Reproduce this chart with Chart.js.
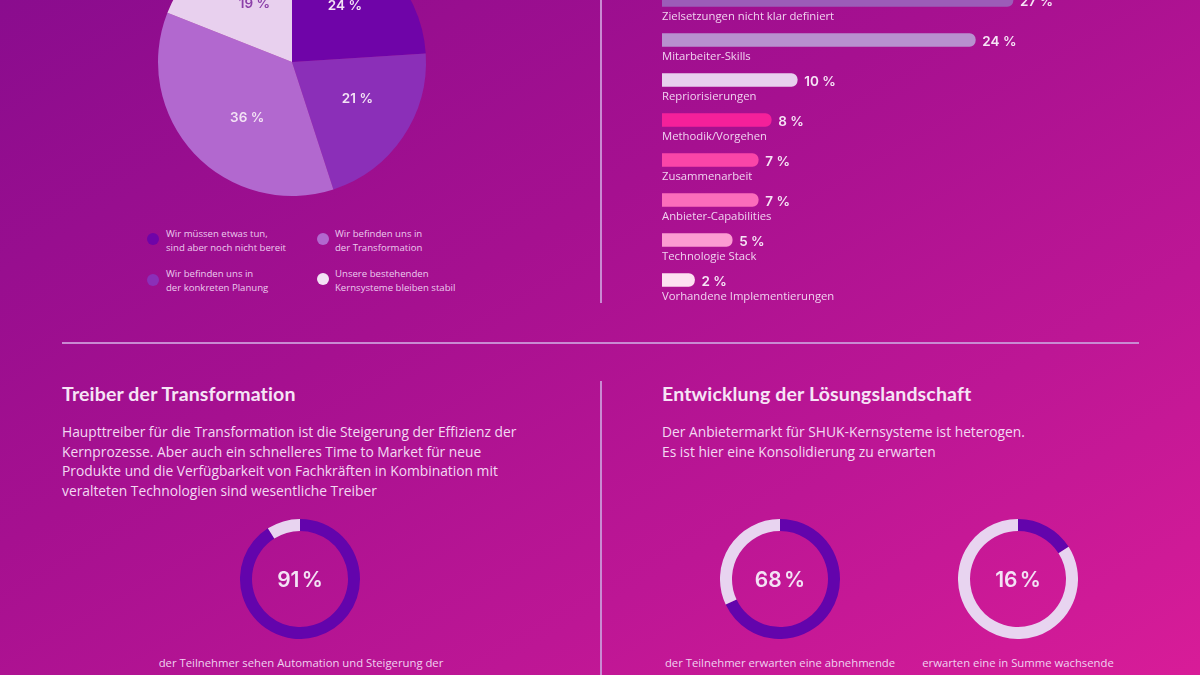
<!DOCTYPE html>
<html lang="de">
<head>
<meta charset="utf-8">
<title>Treiber der Transformation</title>
<script src="https://cdn.jsdelivr.net/npm/chart.js@4/dist/chart.umd.min.js"></script>
<style>
    html, body { margin: 0; padding: 0; }
    body {
        width: 1200px; height: 675px; overflow: hidden; position: relative;
        background: linear-gradient(150deg, #8a0c8e 0%, #a61090 40%, #bd1695 70%, #d81c98 100%);
        font-family: "Open Sans", sans-serif; color: #f3d9f3;
    }
    canvas { position: absolute; }
    .txt { position: absolute; white-space: nowrap; }
    h2 { position: absolute; margin: 0; font: 700 19.5px/22px Lato, sans-serif; letter-spacing: .15px; color: #f6e4f6; white-space: nowrap; }
    .intro { font-size: 13.8px; line-height: 19.5px; }
    .legend { font-size: 9.6px; line-height: 13.5px; color: #eccbee; }
    .dot { position: absolute; width: 12px; height: 12px; border-radius: 50%; }
    .line { position: absolute; background: #c98ad2; }
    .center { position: absolute; width: 120px; text-align: center; font: 600 21px/26px Inter, sans-serif; word-spacing: -3px; color: #f3e2f5; }
    .sub { position: absolute; text-align: center; font-size: 11.3px; line-height: 16px; color: #f0d2f0; white-space: nowrap; transform: translateX(-50%); }
</style>
</head>
<body>
<canvas id="pieChart" style="left:150px;top:-80px"></canvas>
<canvas id="barChart" style="left:662px;top:-20px"></canvas>
<canvas id="donutA" style="left:240px;top:519px"></canvas>
<canvas id="donutB" style="left:720px;top:519px"></canvas>
<canvas id="donutC" style="left:958px;top:519px"></canvas>

<div class="line" style="left:600px;top:0;width:2px;height:303px"></div>
<div class="line" style="left:62px;top:342px;width:1077px;height:2px"></div>
<div class="line" style="left:600px;top:381px;width:2px;height:294px"></div>

<div class="dot" style="left:147px;top:233px;background:#6f04a8"></div>
<div class="txt legend" style="left:166px;top:227px">Wir müssen etwas tun,<br>sind aber noch nicht bereit</div>
<div class="dot" style="left:147px;top:274px;background:#8b2fb8"></div>
<div class="txt legend" style="left:166px;top:267px">Wir befinden uns in<br>der konkreten Planung</div>
<div class="dot" style="left:317px;top:233px;background:#b268cf"></div>
<div class="txt legend" style="left:335px;top:227px">Wir befinden uns in<br>der Transformation</div>
<div class="dot" style="left:317px;top:273px;background:#f3e2f5"></div>
<div class="txt legend" style="left:335px;top:267px">Unsere bestehenden<br>Kernsysteme bleiben stabil</div>

<h2 style="left:62px;top:383px">Treiber der Transformation</h2>
<div class="txt intro" style="left:62px;top:422px">Haupttreiber für die Transformation ist die Steigerung der Effizienz der<br>Kernprozesse. Aber auch ein schnelleres Time to Market für neue<br>Produkte und die Verfügbarkeit von Fachkräften in Kombination mit<br>veralteten Technologien sind wesentliche Treiber</div>
<h2 style="left:662px;top:383px">Entwicklung der Lösungslandschaft</h2>
<div class="txt intro" style="left:662px;top:422px">Der Anbietermarkt für SHUK-Kernsysteme ist heterogen.<br>Es ist hier eine Konsolidierung zu erwarten</div>

<div class="center" style="left:240px;top:567px">91 %</div>
<div class="center" style="left:720px;top:567px">68 %</div>
<div class="center" style="left:958px;top:567px">16 %</div>

<div class="sub" style="left:301px;top:655px">der Teilnehmer sehen Automation und Steigerung der<br>Prozess-Effizienz als zentrale Ambitionen für die Zukunft</div>
<div class="sub" style="left:780px;top:655px">der Teilnehmer erwarten eine abnehmende<br>Anzahl von Softwareanbietern</div>
<div class="sub" style="left:1018px;top:655px">erwarten eine in Summe wachsende<br>Anzahl von Anbietern</div>

<script>
const pieLabels = ['Wir müssen etwas tun, sind aber noch nicht bereit', 'Wir befinden uns in der konkreten Planung', 'Wir befinden uns in der Transformation', 'Unsere bestehenden Kernsysteme bleiben stabil'];
const pieValues = [24, 21, 36, 19];
const pieColors = ['#6f04a8', '#8b2fb8', '#b268cf', '#e8d0ee'];
const pieTextColors = ['#f3e2f5', '#f3e2f5', '#f3e2f5', '#8b3fa8'];

const barCategories = ['Zielsetzungen nicht klar definiert', 'Mitarbeiter-Skills', 'Repriorisierungen', 'Methodik/Vorgehen', 'Zusammenarbeit', 'Anbieter-Capabilities', 'Technologie Stack', 'Vorhandene Implementierungen'];
const barValues = [27, 24.1, 10.4, 8.4, 7.4, 7.4, 5.4, 2.5];
const barValueLabels = ['27 %', '24 %', '10 %', '8 %', '7 %', '7 %', '5 %', '2 %'];
const barColors = ['#9c5cb8', '#b890cf', '#e8d0ee', '#f5209a', '#fa45a8', '#fb6dbb', '#fc9cd2', '#fde0f1'];

const donutValues = { donutA: [91, 9], donutB: [68, 32], donutC: [16, 84] };
const donutColors = ['#6304ac', '#e8d4f0'];

Chart.defaults.animation = false;
Chart.defaults.responsive = false;
Chart.defaults.devicePixelRatio = 1;

function setSize(id, w, h) {
    let c = document.getElementById(id);
    c.width = w;
    c.height = h;
    c.style.width = w + 'px';
    c.style.height = h + 'px';
    return c;
}

// the value labels in the pie are hand placed in the original, not centred
const pieTextShift = [[7, -7], [10, -1], [4, 10], [0, -3]];

const pieText = {
    id: 'pieText',
    afterDatasetsDraw(chart) {
        let ctx = chart.ctx;
        ctx.save();
        ctx.font = '600 13.5px Inter, sans-serif';
        ctx.textAlign = 'center';
        ctx.textBaseline = 'middle';
        chart.getDatasetMeta(0).data.forEach(function (arc, i) {
            let p = arc.getCenterPoint();
            ctx.fillStyle = pieTextColors[i];
            ctx.fillText(pieValues[i] + ' %', p.x + pieTextShift[i][0], p.y + pieTextShift[i][1]);
        });
        ctx.restore();
    }
};

new Chart(setSize('pieChart', 284, 284), {
    type: 'pie',
    data: { labels: pieLabels, datasets: [{ data: pieValues, backgroundColor: pieColors, borderWidth: 0 }] },
    options: { radius: 134, plugins: { legend: { display: false }, tooltip: { enabled: false } } },
    plugins: [pieText]
});

const barText = {
    id: 'barText',
    afterDatasetsDraw(chart) {
        let ctx = chart.ctx;
        ctx.save();
        ctx.textBaseline = 'middle';
        chart.getDatasetMeta(0).data.forEach(function (bar, i) {
            ctx.fillStyle = '#f6e4f6';
            ctx.font = '600 13.5px Inter, sans-serif';
            ctx.fillText(barValueLabels[i], bar.x + 7, bar.y + 1.5);
            ctx.fillStyle = '#f0d2f0';
            ctx.font = '11.3px "Open Sans", sans-serif';
            ctx.fillText(barCategories[i], 0, bar.y + 16.5);
        });
        ctx.restore();
    }
};

new Chart(setSize('barChart', 520, 360), {
    type: 'bar',
    data: {
        labels: barCategories,
        datasets: [{
            data: barValues,
            backgroundColor: barColors,
            barThickness: 13,
            borderRadius: { topRight: 6, bottomRight: 6 },
            borderSkipped: false
        }]
    },
    options: {
        indexAxis: 'y',
        layout: { padding: { bottom: 40 } },
        scales: {
            x: { display: false, min: 0, max: 40 },
            y: { display: false }
        },
        plugins: { legend: { display: false }, tooltip: { enabled: false } }
    },
    plugins: [barText]
});

Object.keys(donutValues).forEach(function (id) {
    new Chart(setSize(id, 120, 120), {
        type: 'doughnut',
        data: { datasets: [{ data: donutValues[id], backgroundColor: donutColors, borderWidth: 0 }] },
        options: { radius: 60, cutout: 48, plugins: { legend: { display: false }, tooltip: { enabled: false } } }
    });
});
</script>
</body>
</html>
